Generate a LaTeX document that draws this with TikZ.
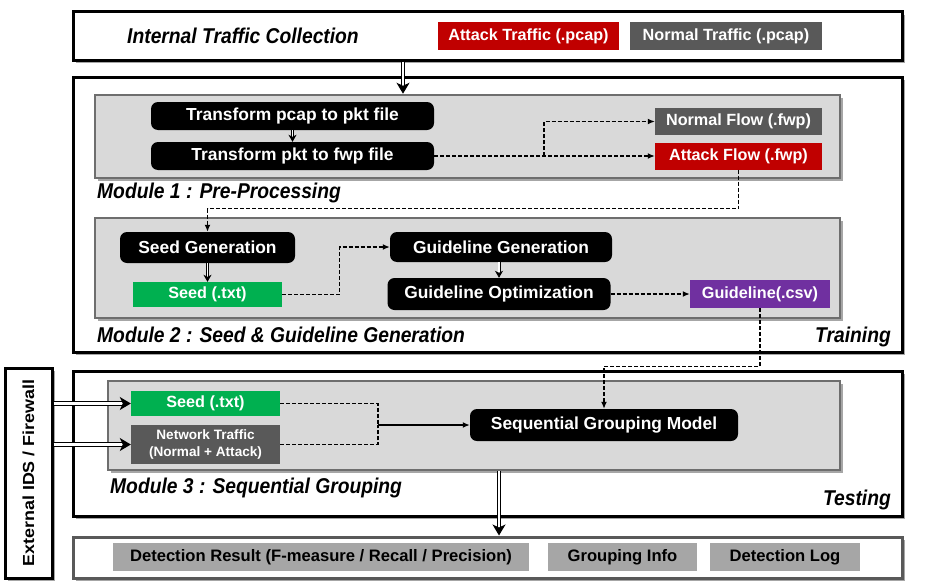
\documentclass[tikz,border=0pt]{standalone}
\usepackage{fontspec}
\setmainfont{Liberation Sans}
\newfontfamily\nar[FakeStretch=0.9]{Liberation Sans}
\newfontfamily\wid[FakeStretch=1.12]{Liberation Sans}
\usetikzlibrary{arrows.meta,shadows,calc}
\definecolor{cred}{HTML}{C00000}
\definecolor{cdark}{HTML}{595959}
\definecolor{cgreen}{HTML}{00B050}
\definecolor{cpurple}{HTML}{7030A0}
\definecolor{cmod}{HTML}{D9D9D9}
\definecolor{cmodb}{HTML}{6E6E6E}
\definecolor{cout}{HTML}{A6A6A6}
\tikzset{
 shd/.style={drop shadow={shadow xshift=3pt, shadow yshift=-3pt, opacity=0.35, fill=black}},
 frame/.style={draw=black, line width=3pt, fill=white, shd, inner sep=0pt},
 modbox/.style={draw=cmodb, line width=2.5pt, fill=cmod, shd, inner sep=0pt},
 blk/.style={fill=black, rounded corners=7pt, text=white, font=\bfseries\fontsize{17.4}{19}\selectfont, inner sep=0pt},
 tag/.style={text=white, font=\bfseries\fontsize{16.2}{18}\selectfont, inner sep=0pt},
 outtag/.style={fill=cout, font=\bfseries\fontsize{16.6}{18}\selectfont, inner sep=0pt},
 lbl/.style={font=\nar\bfseries\itshape\fontsize{21.4}{22}\selectfont, inner sep=0pt},
 dsh/.style={line width=1.4pt, dash pattern=on 4pt off 2pt, -{Latex[length=7pt,width=6pt]}},
 dshl/.style={line width=1.4pt, dash pattern=on 4pt off 2pt},
 dbl/.style={double, double distance=2.2pt, line width=1.1pt, -{Stealth[length=11pt,width=13pt,inset=3pt]}},
 sdbl/.style={double, double distance=1.4pt, line width=0.8pt, -{Stealth[length=7pt,width=8pt,inset=2pt]}},
}
\begin{document}
\begin{tikzpicture}[x=1pt,y=-1pt]
\useasboundingbox (0,0) rectangle (925,586);
% frames
\node[frame, minimum width=829pt, minimum height=48pt] (top) at (487.5,36) {};
\node[frame, minimum width=829pt, minimum height=275pt] (train) at (487.5,214.5) {};
\node[frame, minimum width=829pt, minimum height=145pt] (test) at (487.5,443.5) {};
\node[frame, draw=cdark, minimum width=829pt, minimum height=41pt] (out) at (487.5,557.5) {};
\node[frame, shd/.style={}, minimum width=47pt, minimum height=210pt] (ext) at (28.5,473) {};
\node[font=\wid\bfseries\fontsize{16}{17}\selectfont, rotate=90] (extt) at (ext.center) {External IDS / Firewall};
% modules
\node[modbox, minimum width=745pt, minimum height=83pt] (m1) at (467.5,136.5) {};
\node[modbox, minimum width=745pt, minimum height=100pt] (m2) at (467.5,268) {};
\node[modbox, minimum width=732pt, minimum height=89pt] (m3) at (474,425.5) {};
% top row
\node[lbl] (itc) at (243,36) {Internal Traffic Collection};
\node[tag, fill=cred, minimum width=181pt, minimum height=28pt] (atk) at (528.5,36) {Attack Traffic (.pcap)};
\node[tag, fill=cdark, minimum width=192pt, minimum height=28pt] (nrm) at (726,36) {Normal Traffic (.pcap)};
% module 1
\node[blk, minimum width=283pt, minimum height=28pt] (t1) at (292.5,116) {Transform pcap to pkt file};
\node[blk, minimum width=283pt, minimum height=28pt] (t2) at (292.5,156) {Transform pkt to fwp file};
\node[tag, fill=cdark, minimum width=167pt, minimum height=27pt] (nf) at (738.5,121.5) {Normal Flow (.fwp)};
\node[tag, fill=cred, minimum width=167pt, minimum height=27pt] (af) at (738.5,156) {Attack Flow (.fwp)};
\node[lbl, anchor=west] (l1) at (97,193) {Module 1 : Pre-Processing};
% module 2
\node[blk, minimum width=175pt, minimum height=31pt] (sg) at (207.5,247.5) {Seed Generation};
\node[tag, fill=cgreen, minimum width=149pt, minimum height=25pt] (sd) at (207.5,294.5) {Seed (.txt)};
\node[blk, minimum width=222pt, minimum height=30pt] (gg) at (501,247) {Guideline Generation};
\node[blk, minimum width=223pt, minimum height=32pt] (go) at (499,294) {Guideline Optimization};
\node[tag, fill=cpurple, minimum width=140pt, minimum height=28pt] (gl) at (760,294) {Guideline(.csv)};
\node[lbl, anchor=west] (l2) at (97,335) {Module 2 : Seed \& Guideline Generation};
\node[lbl, anchor=east] (ltr) at (891,337) {Training};
% module 3
\node[tag, fill=cgreen, minimum width=149pt, minimum height=25pt] (sd2) at (205.5,403.5) {Seed (.txt)};
\node[tag, fill=cdark, minimum width=149pt, minimum height=39pt, align=center, font=\bfseries\fontsize{13.6}{17}\selectfont] (nt) at (205.5,444.5) {Network Traffic\\(Normal + Attack)};
\node[blk, minimum width=268pt, minimum height=32pt] (sgm) at (604,425) {Sequential Grouping Model};
\node[lbl, anchor=west] (l3) at (110,488) {Module 3 : Sequential Grouping};
\node[lbl, anchor=east] (lte) at (891,500) {Testing};
% output
\node[outtag, minimum width=416pt, minimum height=28pt] (dr) at (321,557) {Detection Result (F-measure / Recall / Precision)};
\node[outtag, minimum width=149pt, minimum height=28pt] (gi) at (622.5,557) {Grouping Info};
\node[outtag, minimum width=150pt, minimum height=28pt] (dl) at (785,557) {Detection Log};
% connectors
\coordinate (ax1) at (403,0);
\coordinate (ax2) at (499,0);
\coordinate (br) at (544,0);
\coordinate (jn) at (378,425);
\draw[dbl] (top.south -| ax1) -- (m1.north -| ax1);
\draw[sdbl] (t1.south) -- (t2.north);
\draw[dsh] (t2.east) -- (af.west);
\draw[dsh] (t2.east -| br) |- (nf.west);
\draw[dsh] (af.south) -- ++(0,39) -| (sg.north);
\draw[sdbl] (sg.south) -- (sg.south |- sd.north);
\draw[dsh] (sd.east) -- ++(57,0) |- (gg.west);
\draw[sdbl] (gg.south -| go.north) -- (go.north);
\draw[dsh] (go.east) -- (gl.west);
\draw[dsh] (gl.south) -- ++(0,58) -| (sgm.north);
\draw[dshl] (sd2.east) -| (jn);
\draw[dshl] (nt.east) -| (jn);
\draw[line width=1.4pt, -{Latex[length=7pt,width=6pt]}] (jn) -- (sgm.west);
\draw[dbl] (ext.east |- sd2.west) -- (sd2.west);
\draw[dbl] (ext.east |- nt.west) -- (nt.west);
\draw[dbl] (m3.south -| ax2) -- (out.north -| ax2);
\end{tikzpicture}
\end{document}
